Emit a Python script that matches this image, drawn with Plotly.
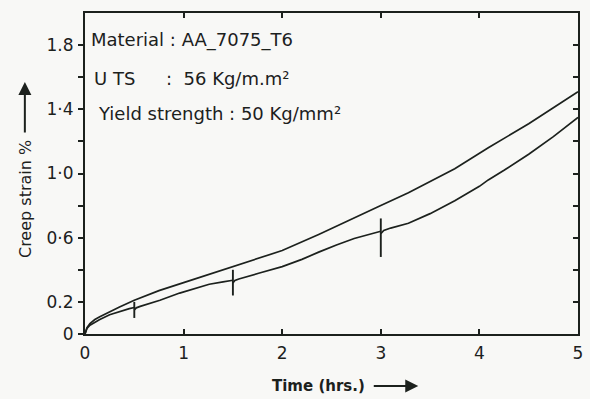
import plotly.graph_objects as go

# ---- data ----
upper_t = [0, 0.02, 0.05, 0.1, 0.15, 0.25, 0.35, 0.5, 0.75, 1.0, 1.25, 1.5, 1.75, 2.0,
           2.37, 2.73, 3.0, 3.28, 3.5, 3.75, 4.09, 4.25, 4.5, 4.75, 5.0]
upper_s = [0, 0.04, 0.065, 0.09, 0.107, 0.14, 0.168, 0.21, 0.27, 0.32, 0.37, 0.42, 0.47, 0.52,
           0.62, 0.72, 0.80, 0.88, 0.95, 1.03, 1.16, 1.22, 1.31, 1.41, 1.51]

lower_t1 = [0, 0.02, 0.05, 0.1, 0.15, 0.25, 0.35, 0.45, 0.5]
lower_s1 = [0, 0.035, 0.055, 0.075, 0.09, 0.12, 0.14, 0.158, 0.165]
lower_t2 = [0.5, 0.52, 0.56, 0.65, 0.76, 0.96, 1.1, 1.26, 1.4, 1.5]
lower_s2 = [0.15, 0.163, 0.172, 0.188, 0.21, 0.255, 0.28, 0.31, 0.325, 0.335]
lower_t3 = [1.5, 1.52, 1.56, 1.65, 1.77, 2.0, 2.2, 2.37, 2.55, 2.73, 2.9, 3.0]
lower_s3 = [0.318, 0.333, 0.343, 0.357, 0.38, 0.42, 0.465, 0.51, 0.555, 0.595, 0.625, 0.64]
lower_t4 = [3.0, 3.03, 3.1, 3.28, 3.5, 3.75, 4.0, 4.09, 4.25, 4.5, 4.75, 5.0]
lower_s4 = [0.625, 0.645, 0.66, 0.69, 0.75, 0.83, 0.92, 0.96, 1.02, 1.12, 1.23, 1.35]

spike_t = [0.5, 1.5, 3.0]
spike_low = [0.10, 0.24, 0.48]
spike_high = [0.20, 0.40, 0.72]

y_tickvals = [0, 0.2, 0.4, 0.6, 0.8, 1.0, 1.2, 1.4, 1.6, 1.8]
y_ticktext = ["0", "0.2", "", "0·6", "", "1·0", "", "1·4", "", "1.8"]
x_tickvals = [0, 1, 2, 3, 4, 5]
x_ticktext = ["0", "1", "2", "3", "4", "5"]

LINE = "#1c211d"
BG = "#f8f8f6"
FONT = "DejaVu Sans"

fig = go.Figure()

lower_t, lower_s = [], []
for tt, ss in [(lower_t1, lower_s1), (lower_t2, lower_s2), (lower_t3, lower_s3), (lower_t4, lower_s4)]:
    lower_t += tt + [None]
    lower_s += ss + [None]

sx, sy = [], []
for t, lo, hi in zip(spike_t, spike_low, spike_high):
    sx += [t, t, None]
    sy += [lo, hi, None]

fig.add_trace(go.Scatter(x=upper_t, y=upper_s, mode="lines",
                         line=dict(color=LINE, width=1.7), showlegend=False))
fig.add_trace(go.Scatter(x=lower_t, y=lower_s, mode="lines", connectgaps=False,
                         line=dict(color=LINE, width=1.7), showlegend=False))
fig.add_trace(go.Scatter(x=sx, y=sy, mode="lines", connectgaps=False,
                         line=dict(color=LINE, width=1.9), showlegend=False))
# invisible trace to activate secondary (mirror) axes
fig.add_trace(go.Scatter(x=[0], y=[0], xaxis="x2", yaxis="y2", mode="markers",
                         marker=dict(opacity=0), showlegend=False, hoverinfo="skip"))

axis_font = dict(family=FONT, size=17, color=LINE)

fig.update_layout(
    width=590, height=399,
    margin=dict(l=85, r=12, t=13, b=65, autoexpand=False),
    paper_bgcolor=BG, plot_bgcolor=BG,
    xaxis=dict(range=[0, 5], tickvals=x_tickvals, ticktext=x_ticktext, automargin=False,
               showgrid=False, zeroline=False, showline=True, linecolor=LINE, linewidth=2,
               ticks="inside", ticklen=5, tickwidth=1.5, tickcolor=LINE,
               tickfont=axis_font, ticklabelstandoff=3),
    yaxis=dict(range=[0, 2.0], tickvals=y_tickvals, ticktext=y_ticktext, automargin=False,
               showgrid=False, zeroline=False, showline=True, linecolor=LINE, linewidth=2,
               ticks="outside", ticklen=5, tickwidth=1.5, tickcolor=LINE,
               tickfont=axis_font, ticklabelstandoff=1),
    xaxis2=dict(range=[0, 5], overlaying="x", side="top", tickvals=[1, 2, 3, 4],
                automargin=False,
                showticklabels=False, showgrid=False, zeroline=False, showline=True,
                linecolor=LINE, linewidth=2, ticks="inside", ticklen=5, tickwidth=1.5,
                tickcolor=LINE),
    yaxis2=dict(range=[0, 2.0], overlaying="y", side="right", tickvals=y_tickvals[1:],
                automargin=False,
                showticklabels=False, showgrid=False, zeroline=False, showline=True,
                linecolor=LINE, linewidth=2, ticks="inside", ticklen=5, tickwidth=1.5,
                tickcolor=LINE),
)

txt = dict(family=FONT, size=18, color=LINE)
ann = [
    dict(text="Material : AA_7075_T6", x=0.008, y=0.916),
    dict(text="U TS", x=0.014, y=0.797),
    dict(text=":  56 Kg/m.m²", x=0.16, y=0.797),
    dict(text="Yield strength : 50 Kg/mm²", x=0.022, y=0.688),
]
for a in ann:
    fig.add_annotation(xref="paper", yref="paper", xanchor="left", yanchor="middle",
                       showarrow=False, font=txt, **a)

# axis titles with arrows
fig.add_annotation(xref="paper", yref="paper", x=0.473, y=-0.162, text="<b>Time (hrs.)</b>",
                   showarrow=False, font=dict(family=FONT, size=15, color=LINE),
                   xanchor="center", yanchor="middle")
fig.add_annotation(xref="paper", yref="paper", x=0.676, y=-0.162, ax=-46, ay=0, text="",
                   showarrow=True, arrowhead=2, arrowsize=1.3, arrowwidth=2, arrowcolor=LINE)
fig.add_annotation(xref="paper", yref="paper", x=-0.122, y=0.42, text="Creep strain %",
                   textangle=-90, showarrow=False,
                   font=dict(family=FONT, size=16, color=LINE),
                   xanchor="center", yanchor="middle")
fig.add_annotation(xref="paper", yref="paper", x=-0.122, y=0.785, ax=0, ay=52, text="",
                   showarrow=True, arrowhead=2, arrowsize=1.3, arrowwidth=2, arrowcolor=LINE)

fig.write_html("out.html", config={"displayModeBar": False},
               post_script="document.body.style.margin='0';document.body.style.background='%s';" % BG)
